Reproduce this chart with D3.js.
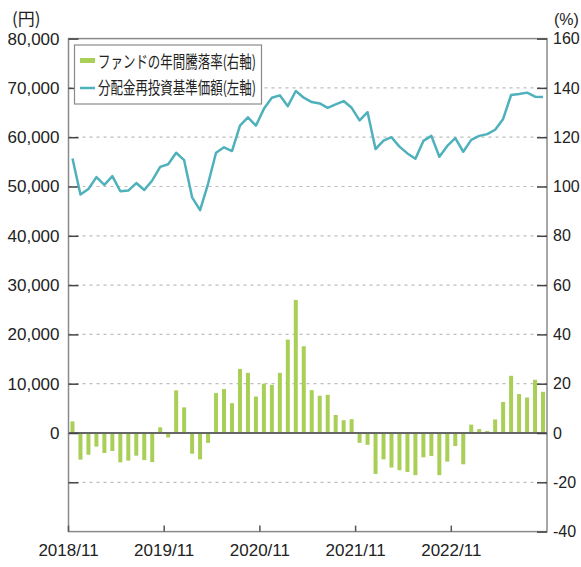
<!DOCTYPE html>
<html><head><meta charset="utf-8">
<script src="https://cdn.jsdelivr.net/npm/d3@7/dist/d3.min.js"></script>
<style>body{margin:0;background:#fff;}svg{display:block;}</style>
</head><body><svg id="c" width="581" height="567"></svg>
<script>
const months = ["2018/11","2018/12","2019/01","2019/02","2019/03","2019/04","2019/05","2019/06","2019/07","2019/08","2019/09","2019/10",
"2019/11","2019/12","2020/01","2020/02","2020/03","2020/04","2020/05","2020/06","2020/07","2020/08","2020/09","2020/10",
"2020/11","2020/12","2021/01","2021/02","2021/03","2021/04","2021/05","2021/06","2021/07","2021/08","2021/09","2021/10",
"2021/11","2021/12","2022/01","2022/02","2022/03","2022/04","2022/05","2022/06","2022/07","2022/08","2022/09","2022/10",
"2022/11","2022/12","2023/01","2023/02","2023/03","2023/04","2023/05","2023/06","2023/07","2023/08","2023/09","2023/10"];
const annualReturn = [4.7,-10.8,-8.8,-5.5,-8.1,-7.3,-11.9,-11.2,-9.2,-11.0,-11.8,2.3,
-1.8,17.3,10.4,-8.4,-10.7,-4.0,16.2,17.8,12.1,26.0,24.4,14.8,
20.0,19.5,24.4,37.9,54.0,35.2,17.4,15.1,15.5,7.3,5.2,5.6,
-4.0,-4.8,-16.6,-10.7,-14.0,-15.1,-15.8,-17.1,-9.9,-9.3,-17.1,-11.6,
-5.3,-12.7,3.4,1.6,0.8,5.5,12.6,23.2,15.8,14.4,21.6,16.7];
const nav = [55700,48360,49500,51900,50340,52100,49040,49180,50700,49300,51230,53970,
54520,56850,55340,47800,45200,50550,56850,57950,57190,62330,64040,62330,
65750,68010,68490,66300,69380,68010,67120,66850,65960,66640,67330,65960,
63420,65070,57600,59320,60000,58080,56710,55620,59250,60270,56030,58220,
59800,57050,59450,60270,60620,61510,63700,68560,68770,69040,68220,68150];
const leftTicks = [0,10000,20000,30000,40000,50000,60000,70000,80000];
const leftTickLabels = ["0","10,000","20,000","30,000","40,000","50,000","60,000","70,000","80,000"];
const rightTicks = [-40,-20,0,20,40,60,80,100,120,140,160];
const xTickLabels = ["2018/11","2019/11","2020/11","2021/11","2022/11"];
const legendLabels = ["ファンドの年間騰落率(右軸)","分配金再投資基準価額(左軸)"];

const svg = d3.select("#c");
const L = 68.5, R = 547, T = 38.6, B = 531.6;
const x = d3.scaleBand().domain(months).range([L, R]).padding(0);
const yL = d3.scaleLinear().domain([-20000, 80000]).range([B, T]);
const yR = d3.scaleLinear().domain([-40, 160]).range([B, T]);
const numFont = "'Liberation Sans', Arial, sans-serif";
const jpFont = "'Noto Sans CJK JP', sans-serif";
const barColor = "#a9cf57", lineColor = "#4fb1bb";

// grid lines (right-axis ticks)
const gridVals = [-20,20,40,60,80,100,120,140];
svg.append("g").selectAll("line").data(gridVals).join("line")
  .attr("x1", L).attr("x2", R).attr("y1", d => yR(d)).attr("y2", d => yR(d))
  .attr("stroke", "#bdbdbd").attr("stroke-width", 1.2).attr("stroke-dasharray", "3,4");

// bars
svg.append("g").selectAll("rect").data(annualReturn).join("rect")
  .attr("x", (d,i) => x(months[i]) + x.bandwidth()/2 - 2)
  .attr("width", 4)
  .attr("y", d => yR(Math.max(0, d)))
  .attr("height", d => Math.abs(yR(d) - yR(0)))
  .attr("fill", barColor);

// zero line
svg.append("line").attr("x1", L).attr("x2", R).attr("y1", yR(0)).attr("y2", yR(0))
  .attr("stroke", "#666").attr("stroke-width", 1.8);

// frame
svg.append("rect").attr("x", L).attr("y", T).attr("width", R - L).attr("height", B - T)
  .attr("fill", "none").attr("stroke", "#8a8a8a").attr("stroke-width", 1.5);

// left axis
const axL = d3.axisRight(yL).tickValues([-10000, ...leftTicks]).tickSize(10)
  .tickFormat(d => { const i = leftTicks.indexOf(d); return i >= 0 ? leftTickLabels[i] : ""; });
const gL = svg.append("g").attr("transform", `translate(${L},0)`).call(axL);
gL.select(".domain").remove();
gL.selectAll(".tick line").attr("stroke", "#444").attr("stroke-width", 1.5);
gL.selectAll(".tick text").attr("x", -9).attr("text-anchor", "end")
  .attr("font-family", numFont).attr("font-size", 17).attr("fill", "#222");

// right axis
const axR = d3.axisLeft(yR).tickValues(rightTicks).tickSize(10).tickFormat(d => String(d));
const gR = svg.append("g").attr("transform", `translate(${R},0)`).call(axR);
gR.select(".domain").remove();
gR.selectAll(".tick line").attr("stroke", "#444").attr("stroke-width", 1.5);
gR.selectAll(".tick text").attr("x", 6).attr("text-anchor", "start")
  .attr("font-family", numFont).attr("font-size", 16).attr("fill", "#222");

// bottom axis
const axB = d3.axisTop(x).tickValues(xTickLabels).tickSize(6).tickFormat(d => d);
const gB = svg.append("g").attr("transform", `translate(0,${B})`).call(axB);
gB.select(".domain").remove();
gB.selectAll(".tick").attr("transform", d => `translate(${x(d)},0)`);
gB.selectAll(".tick line").attr("stroke", "#555").attr("stroke-width", 1.5);
gB.selectAll(".tick text").attr("y", 24).attr("dy", 0)
  .attr("font-family", numFont).attr("font-size", 17).attr("fill", "#222");

// unit labels
svg.append("text").attr("x", 12).attr("y", 25).text("(円)")
  .attr("font-family", jpFont).attr("font-size", 17).attr("fill", "#222");
svg.append("text").attr("x", 554).attr("y", 25).text("(%)")
  .attr("font-family", numFont).attr("font-size", 16).attr("fill", "#222");

// line
const line = d3.line().x((d,i) => x(months[i]) + x.bandwidth()/2).y(d => yL(d));
svg.append("path").datum(nav).attr("d", line).attr("fill", "none")
  .attr("stroke", lineColor).attr("stroke-width", 2.5).attr("stroke-linejoin", "round");

// legend
const lg = svg.append("g");
lg.append("rect").attr("x", 74.5).attr("y", 45).attr("width", 187).attr("height", 59)
  .attr("fill", "#fff").attr("stroke", "#8a8a8a").attr("stroke-width", 1.2);
lg.append("rect").attr("x", 80).attr("y", 58).attr("width", 15).attr("height", 5).attr("fill", barColor);
lg.append("line").attr("x1", 80).attr("x2", 95).attr("y1", 88).attr("y2", 88)
  .attr("stroke", lineColor).attr("stroke-width", 2.5);
lg.selectAll("text").data(legendLabels).join("text")
  .attr("x", 98).attr("y", (d,i) => 68 + i*26)
  .attr("font-family", jpFont).attr("font-size", 17).attr("fill", "#222")
  .attr("textLength", 158).attr("lengthAdjust", "spacingAndGlyphs")
  .text(d => d);
</script></body></html>
